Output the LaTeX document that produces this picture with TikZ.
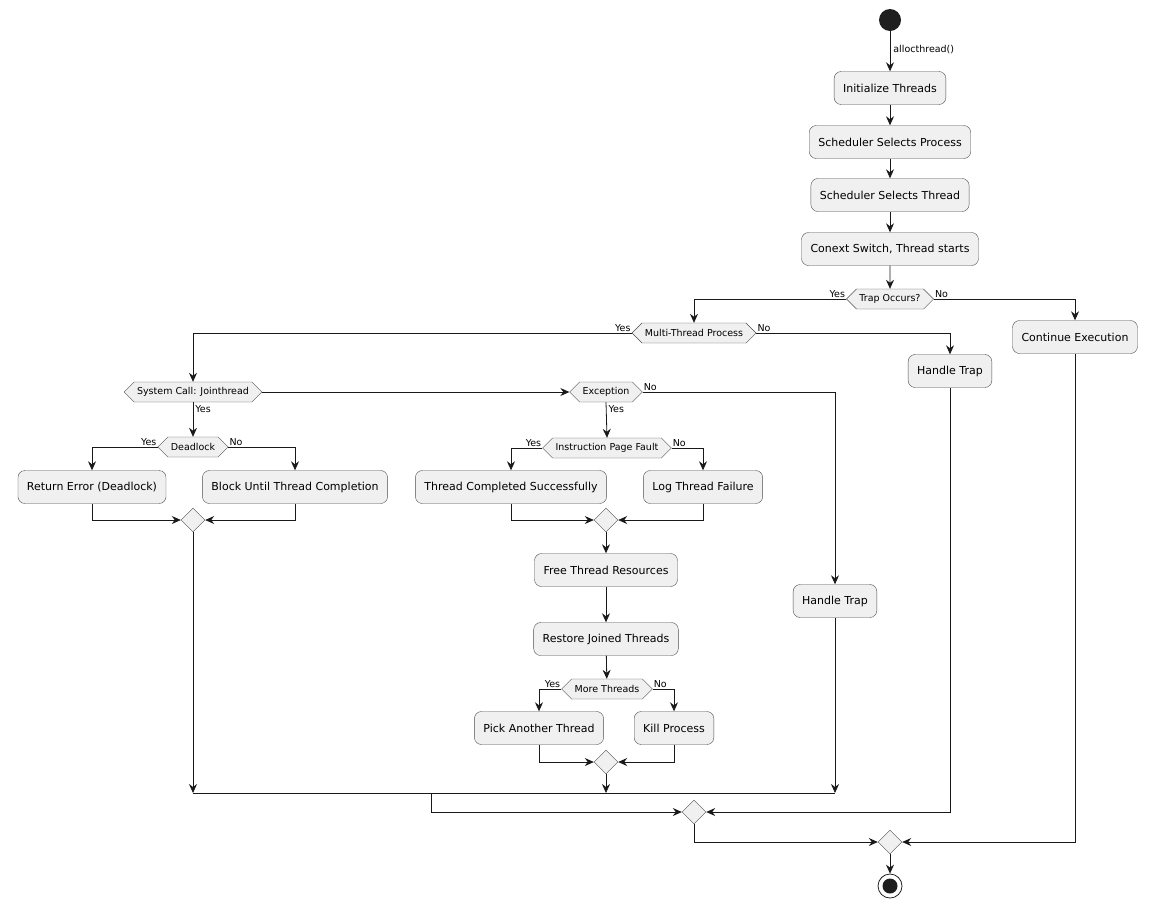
\documentclass[tikz,border=0pt]{standalone}
\usepackage{fontspec}
\setmainfont{DejaVu Sans}
\usetikzlibrary{arrows.meta,shapes.geometric,shapes.symbols}
\begin{document}
\begin{tikzpicture}[x=1pt,y=-1pt,
  box/.style={draw=black!70,fill=black!6,rounded corners=7pt,minimum height=33pt,inner xsep=9pt,font=\fontsize{11}{13}\selectfont},
  hex/.style={draw=black!70,fill=black!6,signal,signal to=west and east,minimum height=20pt,inner xsep=3pt,inner ysep=0pt,font=\fontsize{9.5}{11}\selectfont},
  dia/.style={draw=black!70,fill=black!6,diamond,minimum width=24pt,minimum height=24pt,inner sep=0pt},
  lab/.style={font=\fontsize{9.5}{11}\selectfont,inner sep=1pt},
  ar/.style={draw=black!90,line width=0.8pt,-{Stealth[length=9pt,width=8pt,inset=3pt]}},
  ln/.style={draw=black!90,line width=0.8pt}]
\useasboundingbox (0,0) rectangle (1153,906);
\node[circle,fill=black!88,minimum size=22pt,inner sep=0] (start) at (890,20) {};
\node[box] (init) at (890,88) {Initialize Threads};
\node[box] (ssp) at (890,142) {Scheduler Selects Process};
\node[box] (sst) at (890,195) {Scheduler Selects Thread};
\node[box] (cs) at (890,249) {Conext Switch, Thread starts};
\node[hex] (trap) at (890,299) {Trap Occurs?};
\node[hex] (mtp) at (694,333) {Multi-Thread Process};
\node[box] (cont) at (1075,337) {Continue Execution};
\node[box] (ht1) at (950,371) {Handle Trap};
\node[hex] (sc) at (193,392) {System Call: Jointhread};
\node[hex] (exc) at (606,392) {Exception};
\node[hex] (dl) at (193,447) {Deadlock};
\node[box] (re) at (92,487) {Return Error (Deadlock)};
\node[box] (bl) at (295,487) {Block Until Thread Completion};
\node[dia] (m1) at (193,520) {};
\node[hex] (ipf) at (607,448) {Instruction Page Fault};
\node[box] (tcs) at (511,487) {Thread Completed Successfully};
\node[box] (ltf) at (703,487) {Log Thread Failure};
\node[dia] (m2) at (606,520) {};
\node[box] (ftr) at (606,570) {Free Thread Resources};
\node[box] (rjt) at (606,639) {Restore Joined Threads};
\node[hex] (mt) at (607,689) {More Threads};
\node[box] (pat) at (539,728) {Pick Another Thread};
\node[box] (kp) at (674,728) {Kill Process};
\node[dia] (m3) at (606,762) {};
\node[box] (ht2) at (835,601) {Handle Trap};
\node[dia] (m4) at (694,812) {};
\node[dia] (m5) at (890,842) {};
\node[circle,draw=black!88,line width=0.8pt,minimum size=24pt,inner sep=0] (end) at (890,886) {};
\node[circle,fill=black!88,minimum size=15pt,inner sep=0] at (end) {};
\coordinate (j193) at (193,793);
\coordinate (j606) at (606,793);
\coordinate (j835) at (835,793);
\coordinate (j431) at (431,793);

\draw[ar] (start) -- (init) node[lab,midway,right=2pt,pos=0.45] {allocthread()};
\draw[ar] (init) -- (ssp);
\draw[ar] (ssp) -- (sst);
\draw[ar] (sst) -- (cs);
\draw[ar] (cs) -- (trap);
\draw[ar] (trap.west) -| (mtp.north);
\node[lab,anchor=south east] at (trap.west) {Yes};
\draw[ar] (trap.east) -| (cont.north);
\node[lab,anchor=south west] at (trap.east) {No};
\draw[ar] (mtp.west) -| (sc.north);
\node[lab,anchor=south east] at (mtp.west) {Yes};
\draw[ar] (mtp.east) -| (ht1.north);
\node[lab,anchor=south west] at (mtp.east) {No};
\draw[ar] (sc.east) -- (exc.west);
\draw[ar] (sc.south) -- (dl.north) node[lab,pos=0.2,right=1pt] {Yes};
\draw[ar] (dl.west) -| (re.north);
\node[lab,anchor=south east] at (dl.west) {Yes};
\draw[ar] (dl.east) -| (bl.north);
\node[lab,anchor=south west] at (dl.east) {No};
\draw[ar] (re.south) |- (m1.west);
\draw[ar] (bl.south) |- (m1.east);
\draw[ar] (exc.south) -- (ipf.north) node[lab,pos=0.2,right=1pt] {Yes};
\draw[ar] (exc.east) -| (ht2.north);
\node[lab,anchor=south west] at (exc.east) {No};
\draw[ar] (ipf.west) -| (tcs.north);
\node[lab,anchor=south east] at (ipf.west) {Yes};
\draw[ar] (ipf.east) -| (ltf.north);
\node[lab,anchor=south west] at (ipf.east) {No};
\draw[ar] (tcs.south) |- (m2.west);
\draw[ar] (ltf.south) |- (m2.east);
\draw[ar] (m2) -- (ftr);
\draw[ar] (ftr) -- (rjt);
\draw[ar] (rjt) -- (mt);
\draw[ar] (mt.west) -| (pat.north);
\node[lab,anchor=south east] at (mt.west) {Yes};
\draw[ar] (mt.east) -| (kp.north);
\node[lab,anchor=south west] at (mt.east) {No};
\draw[ar] (pat.south) |- (m3.west);
\draw[ar] (kp.south) |- (m3.east);
\draw[ar] (m1.south) -- (j193);
\draw[ar] (m3.south) -- (j606);
\draw[ar] (ht2.south) -- (j835);
\draw[ln] (j193) -- (j835);
\draw[ar] (j431) |- (m4.west);
\draw[ar] (ht1.south) |- (m4.east);
\draw[ar] (m4.south) |- (m5.west);
\draw[ar] (cont.south) |- (m5.east);
\draw[ar] (m5) -- (end);
\end{tikzpicture}
\end{document}
